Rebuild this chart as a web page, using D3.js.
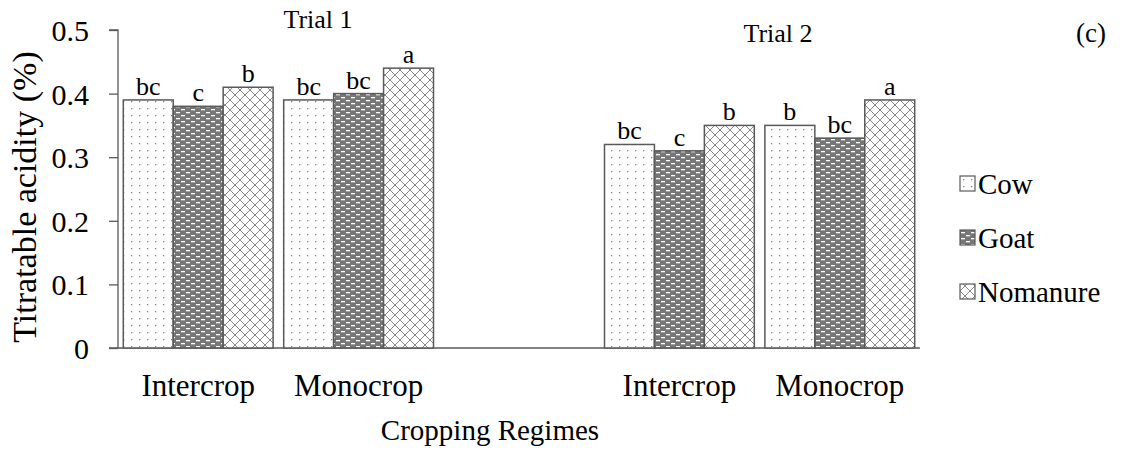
<!DOCTYPE html>
<html>
<head>
<meta charset="utf-8">
<script src="https://cdn.jsdelivr.net/npm/d3@7"></script>
<style>
  body { margin: 0; background: #fff; }
  svg text { font-family: "Liberation Serif", "Times New Roman", serif; fill: #000; }
</style>
</head>
<body>
<svg id="chart" width="1130" height="450"></svg>
<script>
// categories along the x axis (middle one left empty as a spacer)
const categories = ["t1-inter", "t1-mono", "gap", "t2-inter", "t2-mono"];
const categoryLabels = ["Intercrop", "Monocrop", "", "Intercrop", "Monocrop"];
const seriesNames = ["Cow", "Goat", "Nomanure"];

const cowValues = [0.39, 0.39, null, 0.32, 0.35];
const goatValues = [0.38, 0.40, null, 0.31, 0.33];
const nomanureValues = [0.41, 0.44, null, 0.35, 0.39];

const cowLetters = ["bc", "bc", "", "bc", "b"];
const goatLetters = ["c", "bc", "", "c", "bc"];
const nomanureLetters = ["b", "a", "", "b", "a"];

const yTicks = [0, 0.1, 0.2, 0.3, 0.4, 0.5];

const svg = d3.select("#chart");
const margin = { left: 118, top: 30, right: 210, bottom: 102 };
const width = 1130, height = 450;
const serif = "'Liberation Serif', 'Times New Roman', serif";

const x = d3.scaleBand()
  .domain(categories)
  .range([margin.left, width - margin.right])
  .paddingInner(0.066)
  .paddingOuter(0.033);

const x1 = d3.scaleBand()
  .domain(seriesNames)
  .range([0, x.bandwidth()]);

const y = d3.scaleLinear()
  .domain([0, 0.5])
  .range([height - margin.bottom, margin.top]);

// patterns
const defs = svg.append("defs");

const pCow = defs.append("pattern").attr("id", "pat-cow")
  .attr("patternUnits", "userSpaceOnUse").attr("width", 8).attr("height", 7);
pCow.append("rect").attr("width", 8).attr("height", 7).attr("fill", "#fff");
pCow.append("rect").attr("x", 3).attr("y", 3).attr("width", 1.3).attr("height", 1.3).attr("fill", "#888");

const pGoat = defs.append("pattern").attr("id", "pat-goat")
  .attr("patternUnits", "userSpaceOnUse").attr("width", 10).attr("height", 6);
pGoat.append("rect").attr("width", 10).attr("height", 6).attr("fill", "#777");
pGoat.append("rect").attr("x", 1).attr("y", 1).attr("width", 4).attr("height", 1.3).attr("fill", "#fff");
pGoat.append("rect").attr("x", 6).attr("y", 4).attr("width", 4).attr("height", 1.3).attr("fill", "#fff");

const pNo = defs.append("pattern").attr("id", "pat-nomanure")
  .attr("patternUnits", "userSpaceOnUse").attr("width", 10).attr("height", 10);
pNo.append("rect").attr("width", 10).attr("height", 10).attr("fill", "#fff");
pNo.append("path").attr("d", "M0,0L10,10M10,0L0,10")
  .attr("stroke", "#888").attr("stroke-width", 1).attr("fill", "none");

const fills = { Cow: "url(#pat-cow)", Goat: "url(#pat-goat)", Nomanure: "url(#pat-nomanure)" };

const series = [
  { name: "Cow", values: cowValues, letters: cowLetters },
  { name: "Goat", values: goatValues, letters: goatLetters },
  { name: "Nomanure", values: nomanureValues, letters: nomanureLetters }
];

// y axis
const yAxis = d3.axisLeft(y).tickValues(yTicks).tickSize(9)
  .tickFormat(d => d === 0 ? "0" : d3.format(".1f")(d));
const yg = svg.append("g").attr("transform", `translate(${margin.left},0)`).call(yAxis);
yg.attr("font-family", serif);
yg.select(".domain").attr("stroke", "#595959").attr("stroke-width", 1.3).attr("d", `M-9,${y(0.5)}H0V${y(0)}H-9`);
yg.selectAll(".tick line").attr("stroke", "#595959").attr("stroke-width", 1.3);
yg.selectAll(".tick text").attr("x", -29).attr("dy", "0.35em")
  .style("font-size", "30px").style("font-family", serif);

// x baseline
svg.append("line")
  .attr("x1", margin.left).attr("x2", width - margin.right)
  .attr("y1", y(0)).attr("y2", y(0))
  .attr("stroke", "#595959").attr("stroke-width", 1.3);

// bars
series.forEach(s => {
  const g = svg.append("g");
  categories.forEach((c, i) => {
    const v = s.values[i];
    if (v == null) return;
    const bx = x(c) + x1(s.name);
    g.append("rect")
      .attr("x", bx).attr("y", y(v))
      .attr("width", x1.bandwidth()).attr("height", y(0) - y(v))
      .attr("fill", fills[s.name])
      .attr("stroke", "#595959").attr("stroke-width", 1.5);
    g.append("text")
      .attr("x", bx + x1.bandwidth() / 2).attr("y", y(v) - 5)
      .attr("text-anchor", "middle")
      .style("font-size", "26px")
      .text(s.letters[i]);
  });
});

// x category labels
categories.forEach((c, i) => {
  svg.append("text")
    .attr("x", x(c) + x.bandwidth() / 2).attr("y", 396)
    .attr("text-anchor", "middle").style("font-size", "31px")
    .text(categoryLabels[i]);
});

// titles
svg.append("text").attr("x", 490).attr("y", 440)
  .attr("text-anchor", "middle").style("font-size", "29px").text("Cropping Regimes");

svg.append("text")
  .attr("transform", `translate(36,197) rotate(-90)`)
  .attr("text-anchor", "middle").style("font-size", "34px").text("Titratable acidity (%)");

svg.append("text").attr("x", 318).attr("y", 28).attr("text-anchor", "middle")
  .style("font-size", "26px").text("Trial 1");
svg.append("text").attr("x", 778).attr("y", 42).attr("text-anchor", "middle")
  .style("font-size", "26px").text("Trial 2");
svg.append("text").attr("x", 1091).attr("y", 42).attr("text-anchor", "middle")
  .style("font-size", "27px").text("(c)");

// legend
const legend = svg.append("g").attr("transform", "translate(960,183)");
seriesNames.forEach((n, i) => {
  const lg = legend.append("g").attr("transform", `translate(0,${i * 54})`);
  lg.append("rect").attr("x", 0).attr("y", -7).attr("width", 15).attr("height", 15)
    .attr("fill", fills[n]).attr("stroke", "#595959").attr("stroke-width", 1.2);
  lg.append("text").attr("x", 18).attr("y", 1).attr("dy", "0.35em")
    .style("font-size", "29px").text(n);
});
</script>
</body>
</html>
